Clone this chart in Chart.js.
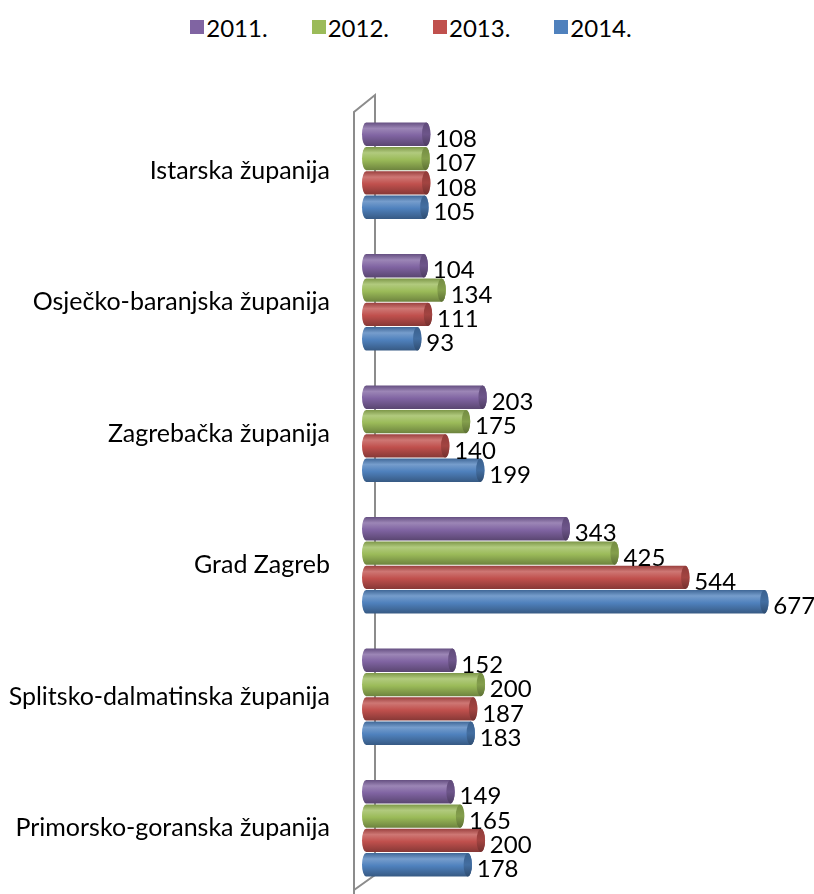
<!DOCTYPE html>
<html>
<head>
<meta charset="utf-8">
<script src="https://cdn.jsdelivr.net/npm/chart.js@4.4.1/dist/chart.umd.min.js"></script>
<style>
  html, body { margin: 0; padding: 0; background: #fff; overflow: hidden; }
  #legenda { height: 54px; display: flex; justify-content: center; align-items: center; font: 24px Lato, sans-serif; color: #000; padding-left: 8px; box-sizing: border-box; }
  #legenda span.stavka { display: inline-flex; align-items: center; margin: 0 22px; }
  #legenda i { display: inline-block; width: 14px; height: 14px; margin-right: 2px; }
  canvas { display: block; }
</style>
</head>
<body>
<div id="legenda"></div>
<canvas id="grafikon" width="814" height="840"></canvas>
<script>
const zupanije = [
  'Istarska županija',
  'Osječko-baranjska županija',
  'Zagrebačka županija',
  'Grad Zagreb',
  'Splitsko-dalmatinska županija',
  'Primorsko-goranska županija'
];
const godine = ['2011.', '2012.', '2013.', '2014.'];
const v2011 = [108, 104, 203, 343, 152, 149];
const v2012 = [107, 134, 175, 425, 200, 165];
const v2013 = [108, 111, 140, 544, 187, 200];
const v2014 = [105, 93, 199, 677, 183, 178];
const boje = ['#8064A2', '#9BBB59', '#C0504D', '#4F81BD'];

const FONT = 'Lato, sans-serif';

// legenda
const legenda = document.getElementById('legenda');
godine.forEach((g, i) => {
  const s = document.createElement('span');
  s.className = 'stavka';
  s.innerHTML = `<i style="background:${boje[i]}"></i>${g}`;
  legenda.appendChild(s);
});

function nijansa(hex, p) {
  const n = parseInt(hex.slice(1), 16);
  let r = n >> 16, g = (n >> 8) & 255, b = n & 255;
  const t = p < 0 ? 0 : 255, a = Math.abs(p);
  r = Math.round(r + (t - r) * a);
  g = Math.round(g + (t - g) * a);
  b = Math.round(b + (t - b) * a);
  return `rgb(${r},${g},${b})`;
}

// stražnji zid (sivi okvir)
const zid = {
  id: 'zid',
  beforeDatasetsDraw(chart) {
    const { ctx, chartArea } = chart;
    const L = chartArea.left, T = chartArea.top, B = chartArea.bottom;
    ctx.save();
    ctx.strokeStyle = '#8c8c8c';
    ctx.lineWidth = 2;
    ctx.beginPath();
    ctx.moveTo(L - 8, B + 10);
    ctx.lineTo(L - 8, T + 7);
    ctx.lineTo(L + 13, T - 10);
    ctx.lineTo(L + 13, B - 19);
    ctx.lineTo(L - 8, B - 4);
    ctx.stroke();
    ctx.restore();
  }
};

// cilindri i vrijednosti
const cilindri = {
  id: 'cilindri',
  beforeDatasetDraw() { return false; },
  afterDatasetsDraw(chart) {
    const ctx = chart.ctx;
    chart.data.datasets.forEach((ds, i) => {
      const meta = chart.getDatasetMeta(i);
      if (meta.hidden) return;
      const c = boje[i];
      meta.data.forEach((bar) => {
        const { x, y, base, height } = bar.getProps(['x', 'y', 'base', 'height'], true);
        const h = height, top = y - h / 2;
        const rx = h * 0.18;
        const g = ctx.createLinearGradient(0, top, 0, top + h);
        g.addColorStop(0, nijansa(c, -0.2));
        g.addColorStop(0.25, nijansa(c, 0.22));
        g.addColorStop(0.55, c);
        g.addColorStop(1, nijansa(c, -0.3));
        ctx.save();
        ctx.fillStyle = g;
        ctx.beginPath();
        ctx.moveTo(base + rx, top);
        ctx.lineTo(x, top);
        ctx.ellipse(x, y, rx, h / 2, 0, -Math.PI / 2, Math.PI / 2);
        ctx.lineTo(base + rx, top + h);
        ctx.ellipse(base + rx, y, rx, h / 2, 0, Math.PI / 2, Math.PI * 1.5);
        ctx.closePath();
        ctx.fill();
        const gc = ctx.createLinearGradient(0, top, 0, top + h);
        gc.addColorStop(0, nijansa(c, -0.25));
        gc.addColorStop(0.5, nijansa(c, -0.15));
        gc.addColorStop(1, nijansa(c, -0.4));
        ctx.beginPath();
        ctx.ellipse(x, y, rx, h / 2, 0, 0, Math.PI * 2);
        ctx.fillStyle = gc;
        ctx.fill();
        ctx.restore();
      });
    });
    // vrijednosti
    chart.data.datasets.forEach((ds, i) => {
      const meta = chart.getDatasetMeta(i);
      if (meta.hidden) return;
      meta.data.forEach((bar, j) => {
        ctx.save();
        ctx.font = `24px ${FONT}`;
        ctx.fillStyle = '#000';
        ctx.textAlign = 'left';
        ctx.textBaseline = 'middle';
        ctx.fillText(String(ds.data[j]), bar.x + 9, bar.y + 5);
        ctx.restore();
      });
    });
  }
};

const skupovi = [v2011, v2012, v2013, v2014].map((d, i) => ({
  label: godine[i],
  data: d,
  backgroundColor: boje[i],
  borderWidth: 0,
  categoryPercentage: 0.74,
  barPercentage: 0.96
}));

new Chart(document.getElementById('grafikon').getContext('2d'), {
  type: 'bar',
  data: { labels: zupanije, datasets: skupovi },
  options: {
    indexAxis: 'y',
    responsive: false,
    animation: false,
    layout: { padding: { top: 51, right: 36, bottom: 0, left: 0 } },
    plugins: {
      legend: { display: false },
      tooltip: { enabled: false }
    },
    scales: {
      x: { display: false, min: 0, max: 700 },
      y: {
        grid: { display: false, drawTicks: false },
        border: { display: false },
        ticks: { color: '#000', padding: 32, font: { family: FONT, size: 25 } },
        afterFit(scale) {
          scale.width = 362;
          scale.paddingTop = 0;
          scale.paddingBottom = 0;
        }
      }
    }
  },
  plugins: [zid, cilindri]
});
</script>
</body>
</html>
